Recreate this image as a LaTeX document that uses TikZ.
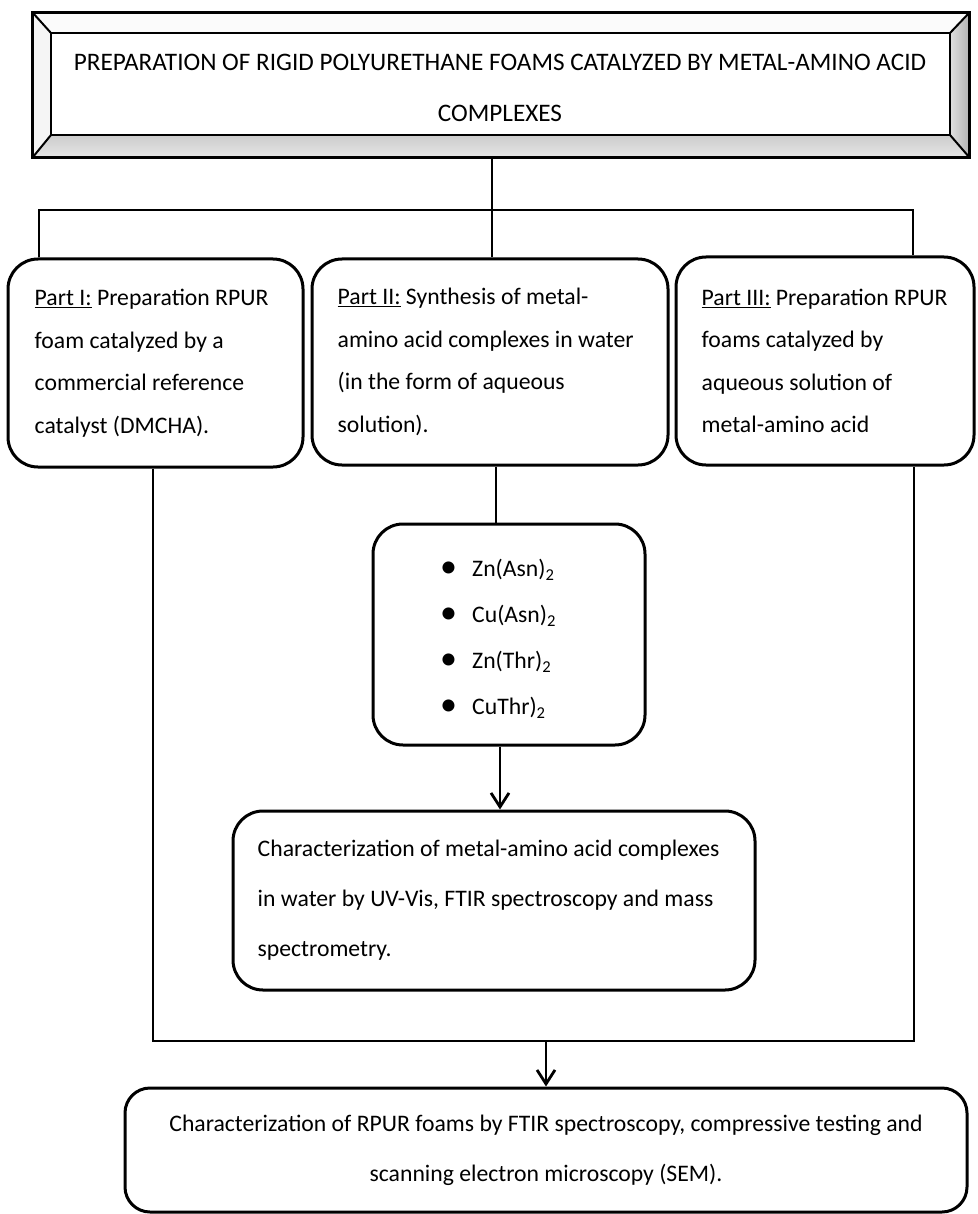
\documentclass[tikz,border=0pt]{standalone}
\usepackage{fontspec}
\setmainfont{Carlito}
\usetikzlibrary{arrows.meta,calc}
\newcommand\blt{\makebox[32pt][l]{\raisebox{-1pt}{\fontsize{34}{34}\selectfont\textbullet}}}
\begin{document}
\begin{tikzpicture}[x=1pt,y=-1pt,
 rbox/.style={draw, line width=3pt, rounded corners=30pt, inner sep=0pt},
 conn/.style={line width=1.7pt},
 arr/.style={line width=2.8pt, -{Straight Barb[length=14pt,width=18pt,line width=2.8pt]}},
 body/.style={inner sep=0pt, align=left, font=\fontsize{23.7}{42.5}\selectfont},
]
\useasboundingbox (0,0) rectangle (977,1214);

% title box with bevel
\node[minimum width=936pt, minimum height=144pt, inner sep=0pt] (title) at (501,85) {};
\coordinate (iNW) at (51,33);
\coordinate (iNE) at (950,33);
\coordinate (iSE) at (950,135);
\coordinate (iSW) at (51,135);
\fill[gray!3] (title.north west) -- (title.north east) -- (iNE) -- (iNW) -- cycle;
\fill[gray!8] (title.north west) -- (iNW) -- (iSW) -- (title.south west) -- cycle;
\shade[left color=gray!25, right color=gray!60] (title.north east) -- (title.south east) -- (iSE) -- (iNE) -- cycle;
\shade[top color=gray!40, bottom color=gray!20] (title.south west) -- (iSW) -- (iSE) -- (title.south east) -- cycle;
\draw[line width=3pt] (title.north west) rectangle (title.south east);
\draw[line width=2.5pt] (iNW) rectangle (iSE);
\draw[line width=2pt] (title.north west) -- (iNW) (title.north east) -- (iNE)
  (title.south west) -- (iSW) (title.south east) -- (iSE);
\node[body, align=center, font=\fontsize{25.2}{51}\selectfont] (titlet) at (500,88)
  {PREPARATION OF RIGID POLYURETHANE FOAMS CATALYZED BY METAL-AMINO ACID\\COMPLEXES};

% part boxes
\node[rbox, minimum width=295pt, minimum height=208pt] (p1) at (155.5,363) {};
\node[rbox, minimum width=356pt, minimum height=206pt] (p2) at (490,362) {};
\node[rbox, minimum width=298pt, minimum height=208pt] (p3) at (825,361) {};
\node[body, anchor=west] (p1t) at ($(p1.west)+(28,0)$)
  {\underline{Part I:} Preparation RPUR\\foam catalyzed by a\\commercial reference\\catalyst (DMCHA).};
\node[body, anchor=west] (p2t) at ($(p2.west)+(27,0)$)
  {\underline{Part II:} Synthesis of metal-\\amino acid complexes in water\\(in the form of aqueous\\solution).};
\node[body, anchor=west] (p3t) at ($(p3.west)+(27,0)$)
  {\underline{Part III:} Preparation RPUR\\foams catalyzed by\\aqueous solution of\\metal-amino acid};

% branching connectors
\coordinate (split) at (492,210);
\coordinate (lft) at (39,210);
\coordinate (rgt) at (913,210);
\draw[conn] (split |- title.south) -- (split);
\draw[conn] (lft |- p1.north) -- (lft) -- (rgt) -- (rgt |- p3.north);
\draw[conn] (split) -- (split |- p2.north);

% complexes box
\node[rbox, minimum width=272pt, minimum height=221pt] (cx) at (509,634.5) {};
\coordinate (p2b) at (496,0);
\draw[conn] (p2b |- p2.south) -- (p2b |- cx.north);
\node[body, anchor=west, font=\fontsize{23.7}{46}\selectfont] (cxt) at (440,639)
  {\blt Zn(Asn)\textsubscript{2}\\\blt Cu(Asn)\textsubscript{2}\\\blt Zn(Thr)\textsubscript{2}\\\blt CuThr)\textsubscript{2}};

% characterization of complexes
\node[rbox, minimum width=522pt, minimum height=179pt] (ch) at (494,900.5) {};
\node[body, anchor=west, font=\fontsize{23.7}{50}\selectfont] (cht) at ($(ch.west)+(26,0)$)
  {Characterization of metal-amino acid complexes\\in water by UV-Vis, FTIR spectroscopy and mass\\spectrometry.};
\coordinate (a1) at (500,0);
\draw[arr] (a1 |- cx.south) -- (a1 |- ch.north);

% final box
\node[rbox, rounded corners=25pt, minimum width=842pt, minimum height=124pt] (fin) at (546,1150) {};
\node[body, align=center, font=\fontsize{23.7}{50}\selectfont] (fint) at (fin)
  {Characterization of RPUR foams by FTIR spectroscopy, compressive testing and\\scanning electron microscopy (SEM).};

% bracket and arrow
\coordinate (bl) at (153,1041);
\coordinate (br) at (914,1041);
\draw[conn] (bl |- p1.south) -- (bl) -- (br) -- (br |- p3.south);
\coordinate (a2) at (546,1041);
\draw[arr] (a2) -- (a2 |- fin.north);
\end{tikzpicture}
\end{document}
